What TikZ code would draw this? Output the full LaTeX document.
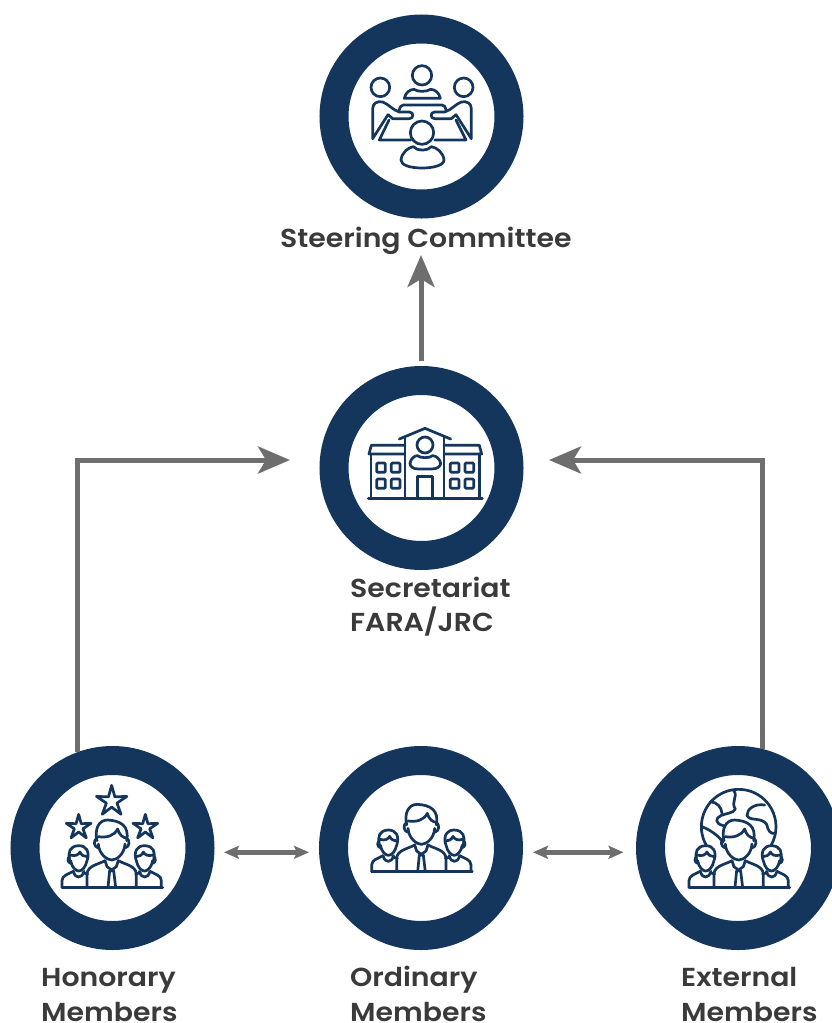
\documentclass[tikz,border=0pt]{standalone}
\usepackage{fontspec}
\setmainfont{Poppins}[BoldFont={Poppins SemiBold},BoldFeatures={FakeStretch=1.09}]
\usetikzlibrary{arrows.meta}
\definecolor{navy}{HTML}{14365C}
\definecolor{conn}{HTML}{6E6E6E}
\definecolor{lab}{HTML}{3A3A3A}
\tikzset{
  ring/.style={circle,draw=navy,fill=white,line width=29pt,minimum size=175pt,inner sep=0pt},
  lbl/.style={text=lab,font=\fontsize{26}{30}\selectfont\bfseries,align=left,inner sep=0pt},
  bigarrow/.style={draw=conn,line width=5pt,-{Stealth[length=32pt,width=27pt,inset=8pt]}},
  twoway/.style={draw=conn,line width=4.5pt,{Stealth[length=15pt,width=13pt,inset=3pt]}-{Stealth[length=15pt,width=13pt,inset=3pt]}},
  ico/.style={draw=navy,line width=2.7pt,line join=round,line cap=round},
  zoomed/.style={x=0.33333pt,y=-0.33333pt},
}
\newcommand{\smallman}{%
 \draw[ico] (178,298) .. controls (172,275) and (178,256) .. (205,255) .. controls (228,255) and (238,272) .. (231,298);
 \draw[ico] (180,283) .. controls (195,288) and (205,282) .. (209,274) .. controls (213,284) and (222,288) .. (231,288);
 \draw[ico] (178,288) .. controls (170,292) and (172,306) .. (181,308);
 \draw[ico] (181,300) .. controls (184,320) and (197,331) .. (205,331) .. controls (215,331) and (226,320) .. (230,300);
 \draw[ico] (155,380) -- (155,360) .. controls (155,344) and (175,340) .. (189,332);
 \draw[ico] (189,332) .. controls (193,345) and (198,349) .. (205,349) .. controls (212,349) and (218,343) .. (221,332);
 \draw[ico] (218,336) -- (232,340);
}
\newcommand{\mangroup}{%
 \smallman
 \begin{scope}[shift={(608,0)},xscale=-1]\smallman\end{scope}
 % big man
 \draw[ico] (260,240) .. controls (252,205) and (265,178) .. (292,178) .. controls (330,180) and (358,195) .. (349,240);
 \draw[ico] (264,228) .. controls (290,232) and (312,225) .. (322,205) .. controls (326,222) and (338,232) .. (350,232);
 \draw[ico] (260,232) .. controls (248,240) and (250,258) .. (264,262);
 \draw[ico] (349,232) .. controls (360,240) and (358,258) .. (344,262);
 \draw[ico] (264,250) .. controls (266,280) and (290,298) .. (304,298) .. controls (320,298) and (342,280) .. (344,250);
 \draw[ico] (230,380) -- (230,340) .. controls (232,315) and (262,312) .. (284,300);
 \draw[ico] (378,380) -- (378,340) .. controls (376,315) and (346,312) .. (324,300);
 \draw[ico] (284,300) -- (290,318) -- (304,328) -- (318,318) -- (324,300);
 \draw[ico] (293,380) -- (298,330) -- (310,330) -- (316,380);
 \draw[ico] (155,380) -- (457,380);
}
\newcommand{\icostar}[3]{%
 \draw[ico,shift={(#1,#2)}] (0,-#3)
  -- ({#3*0.2},{-#3*0.28}) -- ({#3*0.951},{-#3*0.309})
  -- ({#3*0.33},{#3*0.11}) -- ({#3*0.588},{#3*0.809})
  -- (0,{#3*0.36}) -- ({-#3*0.588},{#3*0.809})
  -- ({-#3*0.33},{#3*0.11}) -- ({-#3*0.951},{-#3*0.309})
  -- ({-#3*0.2},{-#3*0.28}) -- cycle;
}
\newcommand{\seatedside}{%
 \draw[ico] (181,232) circle (28);
 \draw[ico] (158,386) -- (158,296) .. controls (158,280) and (172,272) .. (188,276)
   .. controls (205,282) and (218,300) .. (238,306) -- (268,306) .. controls (282,306) and (282,326) .. (268,326)
   -- (218,326) -- (204,314) -- cycle;
}
\newcommand{\windowpair}[1]{%
 \foreach \wy in {308,356} {
  \draw[ico,rounded corners=1pt] (#1-13,\wy-14) rectangle (#1+13,\wy+14);
  \draw[ico,rounded corners=1pt] (#1+31,\wy-14) rectangle (#1+57,\wy+14);
 }
}
\begin{document}
\begin{tikzpicture}[x=1pt,y=-1pt]
\useasboundingbox (0,0) rectangle (832,1023);
\node[ring] (steer) at (421.5,116.5) {};
\node[ring] (sec) at (421.5,468) {};
\node[ring] (hon) at (112.5,848) {};
\node[ring] (ord) at (421,848) {};
\node[ring] (ext) at (738,848) {};
\node[lbl,anchor=base west] (lsteer) at (280,247) {Steering Committee};
\node[lbl,anchor=base west] (lsec) at (350,597) {Secretariat};
\node[lbl,anchor=base west] (lsec2) at (350,631) {FARA/JRC};
\node[lbl,anchor=base west] (lhon) at (41,986) {Honorary};
\node[lbl,anchor=base west] (lhon2) at (41,1021) {Members};
\node[lbl,anchor=base west] (lord) at (350,986) {Ordinary};
\node[lbl,anchor=base west] (lord2) at (350,1021) {Members};
\node[lbl,anchor=base west] (lext) at (681,986) {External};
\node[lbl,anchor=base west] (lext2) at (681,1021) {Members};
\coordinate (secL) at (290,460);
\coordinate (secR) at (549,460);
\coordinate (secT) at (421,361);
\coordinate (steerB) at (421,255);
\draw[bigarrow] (secT) -- (steerB);
\draw[bigarrow] (hon.110.5) |- (secL);
\draw[bigarrow] (ext.76) |- (secR);
\coordinate (hoR) at (224,852.3);
\coordinate (orL) at (309,852.3);
\coordinate (orR) at (533,852.3);
\coordinate (exL) at (623.5,852.3);
\draw[twoway] (hoR) -- (orL);
\draw[twoway] (orR) -- (exL);
% meeting icon
\begin{scope}[shift={(320,10)},zoomed]
 \draw[ico] (306,196) circle (29);
 \draw[ico] (253,265) .. controls (256,248) and (270,238) .. (282,238) .. controls (292,246) and (320,246) .. (332,238)
   .. controls (344,238) and (358,248) .. (361,265) -- cycle;
 \seatedside
 \begin{scope}[shift={(612,0)},xscale=-1]\seatedside\end{scope}
 \draw[ico] (238,300) .. controls (240,290) and (244,285) .. (250,285) -- (366,285) .. controls (372,285) and (376,290) .. (378,300);
 \draw[ico] (207,330) -- (178,390) -- (272,390);
 \draw[ico] (408,330) -- (438,390) -- (344,390);
 \draw[ico] (306,368) circle (35);
 \draw[ico] (243,450) .. controls (245,428) and (265,412) .. (280,410) .. controls (292,424) and (322,424) .. (334,410)
   .. controls (350,412) and (370,428) .. (372,450) .. controls (372,466) and (340,474) .. (306,474)
   .. controls (272,474) and (243,466) .. (243,450) -- cycle;
\end{scope}
% building icon
\begin{scope}[shift={(320,365)},zoomed]
 \draw[ico] (145,401) -- (487,401);
 \draw[ico] (238,222) -- (315,190) -- (392,222);
 \draw[ico] (255,216) -- (255,400);
 \draw[ico] (372,216) -- (372,400);
 \draw[ico] (315,240) circle (24);
 \draw[ico] (270,295) .. controls (272,280) and (285,272) .. (292,272) .. controls (302,280) and (328,280) .. (338,272)
   .. controls (348,272) and (360,282) .. (362,295) .. controls (362,305) and (350,312) .. (335,312) -- (295,312)
   .. controls (280,312) and (270,305) .. (270,295) -- cycle;
 \draw[ico] (293,400) -- (293,335) -- (338,335) -- (338,400);
 \draw[ico] (255,241) -- (154,241) -- (147,267) -- (255,267);
 \draw[ico] (372,241) -- (478,241) -- (485,267) -- (372,267);
 \draw[ico] (153,267) -- (153,400);
 \draw[ico] (479,267) -- (479,400);
 \windowpair{183}
 \windowpair{404}
\end{scope}
% honorary icon
\begin{scope}[shift={(10.33,760.67)},zoomed]
 \icostar{304}{122}{48}
 \icostar{205}{200}{39}
 \icostar{405}{200}{39}
 \mangroup
\end{scope}
% ordinary icon
\begin{scope}[shift={(320,745)},zoomed]
 \mangroup
\end{scope}
% external icon: globe
\begin{scope}[shift={(622,745)},zoomed]
 \draw[ico] (252.5,300) arc[start angle=150.6,end angle=389.4,radius=112];
 \draw[ico] (335,136) .. controls (350,155) and (325,170) .. (340,192) .. controls (335,205) and (310,205) .. (296,212)
   .. controls (280,220) and (278,235) .. (304,242);
 \draw[ico] (265,170) .. controls (285,172) and (298,185) .. (300,205);
 \draw[ico] (240,245) .. controls (265,255) and (290,272) .. (303,292);
 \draw[ico] (428,180) .. controls (398,175) and (374,192) .. (375,212) .. controls (385,230) and (418,215) .. (434,238)
   .. controls (438,258) and (446,268) .. (460,265);
\end{scope}
\begin{scope}[shift={(637.3,760.67)},zoomed]
 \mangroup
\end{scope}
\end{tikzpicture}
\end{document}
